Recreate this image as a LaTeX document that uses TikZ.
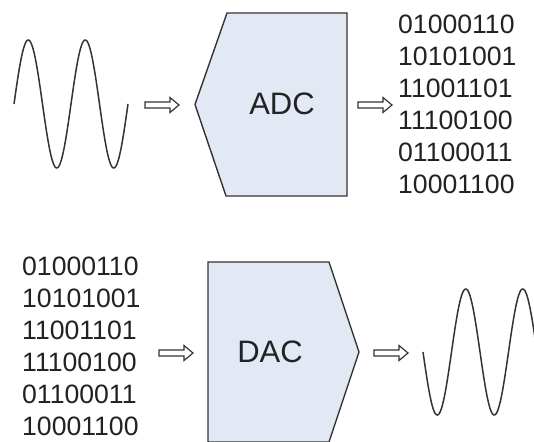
\documentclass[tikz,border=0pt]{standalone}
\usepackage{fontspec}
\setmainfont{Liberation Sans}
\usetikzlibrary{calc}
\definecolor{boxfill}{HTML}{E3E9F4}
\definecolor{edge}{HTML}{333333}
\definecolor{ink}{HTML}{222222}
\tikzset{
  conv/.style={draw=edge, line width=1.4pt, fill=boxfill, line join=miter},
  wave/.style={draw=edge, line width=1.5pt},
  bits/.style={inner sep=0pt, align=left, text=ink,
    font=\fontsize{26.6}{32}\selectfont},
  label/.style={inner sep=0pt, text=ink, font=\fontsize{31}{36}\selectfont},
  hollow/.style={draw=edge, line width=1.2pt, fill=white, line join=miter}
}
% outlined right-pointing arrow glyph, 34 units long
\newcommand{\hollowarrow}[1]{%
  \draw[hollow] ($(#1)+(0,-3)$) -- ++(25,0) -- ++(0,-4.5) -- ++(9,7.5)
    -- ++(-9,7.5) -- ++(0,-4.5) -- ++(-25,0) -- cycle;}
\begin{document}
\begin{tikzpicture}[x=1pt, y=-1pt]
\useasboundingbox (0,0) rectangle (534,441);
\clip (0,0) rectangle (534,441);

% analog input: two periods of 57 units
\draw[wave] plot[domain=0:114, samples=240, smooth] ({14+\x},{104-64*sin(6.31579*\x)});

% ADC block
\draw[conv] (227,13) -- (347,13) -- (347,196) -- (226,196) -- (195,104.5) -- cycle;
\node[label] (adc) at (282,104) {ADC};

% digital output (anchored on the baseline of its last line)
\node[bits, anchor=base west] (codeout) at (398,193) {01000110\\10101001\\11001101\\11100100\\01100011\\10001100};

% digital input
\node[bits, anchor=base west] (codein) at (22,435) {01000110\\10101001\\11001101\\11100100\\01100011\\10001100};

% DAC block
\draw[conv] (208,262) -- (329,262) -- (359,352) -- (329,442) -- (208,442) -- cycle;
\node[label] (dac) at (270,352) {DAC};

% analog output
\draw[wave] plot[domain=0:114, samples=240, smooth] ({423+\x},{352+63*sin(6.31579*\x)});

% flow arrows
\coordinate (a1) at (145,105);
\coordinate (a2) at (358,105);
\coordinate (a3) at (159,353);
\coordinate (a4) at (374,353);
\hollowarrow{a1}
\hollowarrow{a2}
\hollowarrow{a3}
\hollowarrow{a4}
\end{tikzpicture}
\end{document}
